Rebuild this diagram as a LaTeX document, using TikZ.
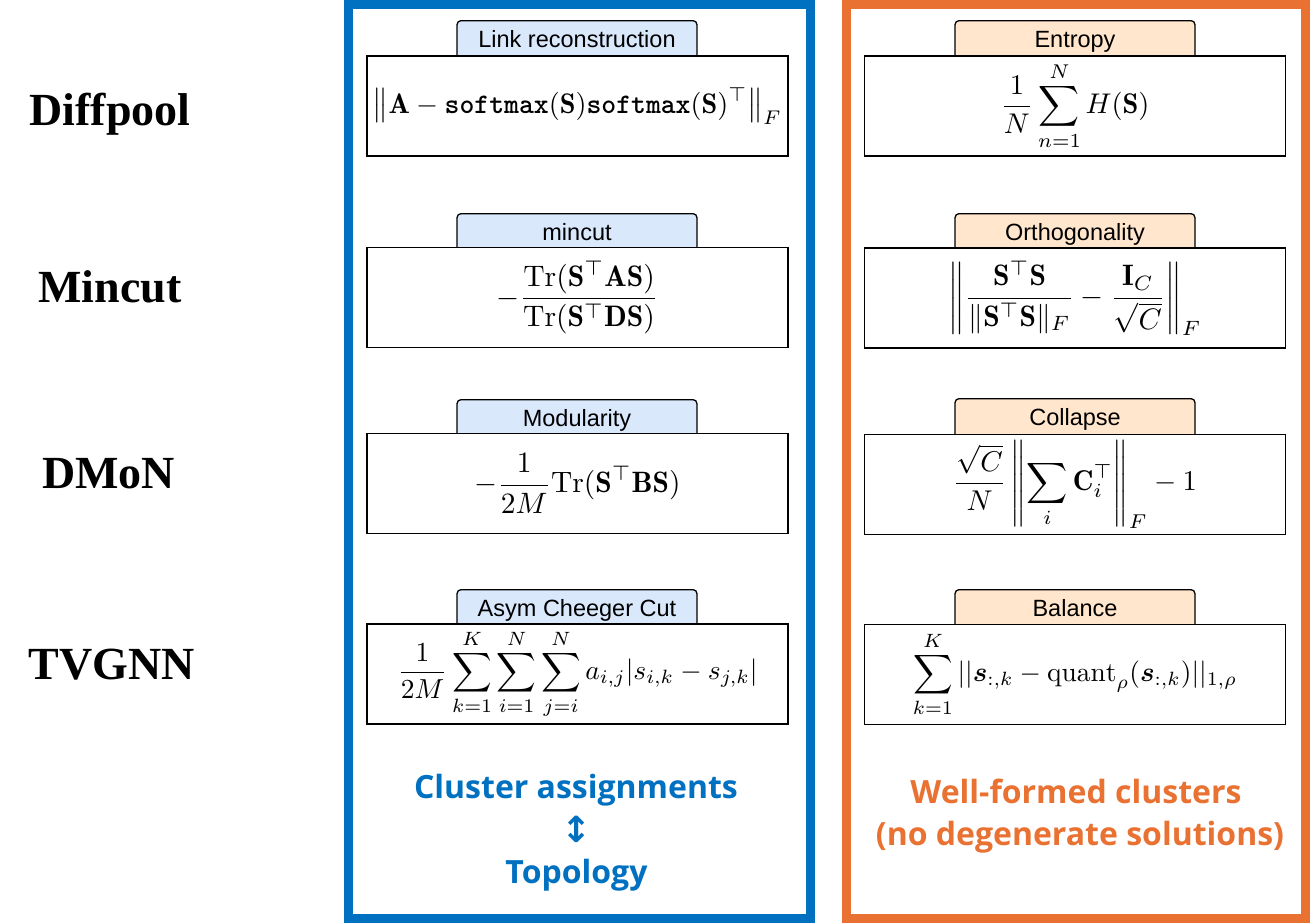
\documentclass[tikz,border=0pt]{standalone}
\usepackage{amsmath,bm}
\usepackage{graphicx}
\usepackage{fontspec}
\newfontfamily\tabfont{Liberation Sans}
\newfontfamily\methodfont{Liberation Serif}
\newfontfamily\notefont{Open Sans}
\newfontfamily\symfont{DejaVu Sans}
\definecolor{cablue}{HTML}{0070C0}
\definecolor{caorange}{HTML}{E97132}
\definecolor{tabblue}{HTML}{DAE8FC}
\definecolor{taborange}{HTML}{FFE6CC}
\newcommand{\loss}[2]{\resizebox{#1pt}{!}{$\displaystyle #2$}}

\begin{document}
\begin{tikzpicture}[x=1pt, y=-1pt,
    tab/.style={draw, rounded corners=4pt, line width=1.3pt, minimum width=240pt, inner xsep=0pt, inner ysep=0pt,
        text height=26.5pt, text depth=17.5pt, anchor=north, font=\tabfont\fontsize{23.5}{28}\selectfont},
    tabb/.style={tab, fill=tabblue},
    tabo/.style={tab, fill=taborange},
    lossbox/.style={draw, fill=white, line width=1.3pt, minimum width=421pt, minimum height=100pt, inner sep=0pt},
    method/.style={anchor=base, font=\methodfont\bfseries\fontsize{46}{50}\selectfont},
    note/.style={anchor=base, font=\notefont\bfseries\fontsize{32}{38}\selectfont}]
    \useasboundingbox (0,0) rectangle (1310,924);

    \draw[cablue, line width=9pt] (348.5,4.5) rectangle (810.5,918.5);
    \draw[caorange, line width=9pt] (846.5,4.5) rectangle (1305,918.5);

    \node[method] (diffpool) at (110,125) {Diffpool};
    \node[method] (mincut) at (110,302) {Mincut};
    \node[method] (dmon) at (108.5,488) {DMoN};
    \node[method] (tvgnn) at (111.5,679) {TVGNN};

    \node[tabb] (link) at (577,20) {Link reconstruction};
    \node[tabb] (cut) at (577,213) {mincut};
    \node[tabb] (modul) at (577,399) {Modularity};
    \node[tabb] (cheeger) at (577,589) {Asym Cheeger Cut};

    \node[tabo] (entropy) at (1075,20) {Entropy};
    \node[tabo] (ortho) at (1075,213) {Orthogonality};
    \node[tabo] (collapse) at (1075,398) {Collapse};
    \node[tabo] (balance) at (1075,589) {Balance};

    \node[lossbox] (linkeq) at (577.5,106) {\loss{409}{\left\|\mathbf{A}-\text{\ttfamily\bfseries softmax}(\mathbf{S})\text{\ttfamily\bfseries softmax}(\mathbf{S})^{\top}\right\|_F}};
    \node[lossbox] (cuteq) at (577.5,297.5) {\loss{162}{-\frac{\mathrm{Tr}(\mathbf{S}^{\top}\mathbf{A}\mathbf{S})}{\mathrm{Tr}(\mathbf{S}^{\top}\mathbf{D}\mathbf{S})}}};
    \node[lossbox] (moduleq) at (577.5,483.5) {\loss{206}{-\frac{1}{2M}\mathrm{Tr}(\mathbf{S}^{\top}\mathbf{B}\mathbf{S})}};
    \node[lossbox] (cheegereq) at (577.5,674) {\loss{360}{\frac{1}{2M}\sum_{k=1}^{K}\sum_{i=1}^{N}\sum_{j=i}^{N}a_{i,j}|s_{i,k}-s_{j,k}|}};

    \node[lossbox] (entropyeq) at (1075,106) {\loss{149}{\frac{1}{N}\sum_{n=1}^{N}H(\mathbf{S})}};
    \node[lossbox] (orthoeq) at (1075,298) {\loss{253}{\left\|\frac{\mathbf{S}^{\top}\mathbf{S}}{\|\mathbf{S}^{\top}\mathbf{S}\|_F}-\frac{\mathbf{I}_C}{\sqrt{C}}\right\|_F}};
    \node[lossbox] (collapseeq) at (1075,484.5) {\loss{244}{\frac{\sqrt{C}}{N}\left\|\sum_i\mathbf{C}_i^{\top}\right\|_F-1}};
    \node[lossbox] (balanceeq) at (1075,674.5) {\loss{324}{\sum_{k=1}^{K}||\bm{s}_{:,k}-\mathrm{quant}_{\rho}(\bm{s}_{:,k})||_{1,\rho}}};

    \node[note, text=cablue] (assign) at (576,798) {Cluster assignments};
    \node[text=cablue, font=\symfont\bfseries\fontsize{36}{40}\selectfont] (both) at (577,829) {↕};
    \node[note, text=cablue] (topo) at (576.5,883) {Topology};

    \node[note, text=caorange] (wellformed) at (1076,803) {Well-formed clusters};
    \node[note, text=caorange] (nodegen) at (1080,845) {(no degenerate solutions)};
\end{tikzpicture}
\end{document}
